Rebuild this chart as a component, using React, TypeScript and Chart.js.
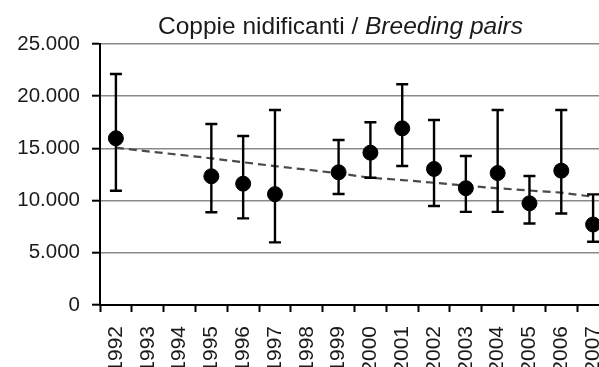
import React, { useEffect, useRef } from 'react';
import { Chart, registerables } from 'chart.js';

Chart.register(...registerables);

const years = ['1992', '1993', '1994', '1995', '1996', '1997', '1998', '1999', '2000', '2001', '2002', '2003', '2004', '2005', '2006', '2007'];
const pairs = [15970, null, null, 12330, 11620, 10620, null, 12710, 14590, 16920, 13030, 11190, 12640, 9740, 12870, 7710];
const upper = [22130, null, null, 17340, 16190, 18680, null, 15800, 17500, 21140, 17720, 14270, 18680, 12360, 18680, 10600];
const lower = [10950, null, null, 8880, 8300, 6000, null, 10630, 12190, 13310, 9480, 8920, 8920, 7800, 8760, 6060];
const trend = [15070, 14720, 14390, 14050, 13670, 13310, 12960, 12610, 12190, 11970, 11710, 11430, 11180, 10970, 10760, 10370];
const yTickValues = [0, 5000, 10000, 15000, 20000, 25000];
const yTickLabels = ['0', '5.000', '10.000', '15.000', '20.000', '25.000'];

const FONT = '"Liberation Sans", Arial, sans-serif';

const errorBars = {
  id: 'errorBars',
  afterDatasetsDraw(chart: any) {
    const { ctx, scales } = chart;
    const x = scales.x;
    const y = scales.y;
    ctx.save();
    ctx.strokeStyle = '#000';
    ctx.lineWidth = 2.4;
    years.forEach((_, i) => {
      const hi = upper[i];
      const lo = lower[i];
      if (hi == null || lo == null) return;
      const px = x.getPixelForValue(i);
      const t = y.getPixelForValue(hi);
      const b = y.getPixelForValue(lo);
      ctx.beginPath();
      ctx.moveTo(px, t);
      ctx.lineTo(px, b);
      ctx.moveTo(px - 6, t);
      ctx.lineTo(px + 6, t);
      ctx.moveTo(px - 6, b);
      ctx.lineTo(px + 6, b);
      ctx.stroke();
    });
    ctx.restore();
  },
};

export default function App() {
  const ref = useRef<HTMLCanvasElement>(null);

  useEffect(() => {
    if (!ref.current) return;
    const chart = new Chart(ref.current, {
      type: 'line',
      data: {
        labels: years,
        datasets: [
          {
            label: 'Coppie',
            data: pairs,
            showLine: false,
            pointRadius: 7.5,
            pointHoverRadius: 7.5,
            pointBackgroundColor: '#000',
            pointBorderColor: '#000',
            borderColor: '#000',
            order: 0,
          },
          {
            label: 'Trend',
            data: trend,
            borderColor: '#4a4a4a',
            borderWidth: 2.2,
            borderDash: [8, 5],
            pointRadius: 0,
            pointHoverRadius: 0,
            fill: false,
            tension: 0,
            order: 1,
          },
        ],
      },
      options: {
        responsive: false,
        animation: false,
        devicePixelRatio: 1,
        layout: { padding: { top: 44, left: 0, right: 11, bottom: 0 } },
        plugins: {
          legend: { display: false },
          tooltip: { enabled: false },
          title: { display: false },
        },
        scales: {
          x: {
            type: 'category',
            offset: true,
            afterFit: (s: any) => {
              s.height = 85;
              s.paddingLeft = 0;
              s.paddingRight = 0;
            },
            grid: {
              offset: true,
              drawOnChartArea: false,
              drawTicks: true,
              tickLength: 7,
              color: '#000',
              tickColor: '#000',
              tickWidth: 2,
            },
            border: { display: true, color: '#000', width: 2 },
            ticks: {
              minRotation: 90,
              maxRotation: 90,
              autoSkip: false,
              padding: 14,
              color: '#1a1a1a',
              font: { family: FONT, size: 21 },
            },
          },
          y: {
            min: 0,
            max: 25000,
            afterFit: (s: any) => { s.width = 100; },
            afterBuildTicks: (s: any) => { s.ticks = yTickValues.map((v) => ({ value: v })); },
            grid: {
              color: '#8a8a8a',
              lineWidth: 1.4,
              drawTicks: true,
              tickLength: 8,
              tickColor: '#000',
              tickWidth: 2,
            },
            border: { display: true, color: '#000', width: 2 },
            ticks: {
              padding: 12,
              color: '#1a1a1a',
              font: { family: FONT, size: 20.5 },
              callback: (v: any) => {
                const idx = yTickValues.indexOf(Number(v));
                return idx >= 0 ? yTickLabels[idx] : '';
              },
            },
          },
        },
      },
      plugins: [errorBars],
    });
    return () => chart.destroy();
  }, []);

  return (
    <div style={{ position: 'fixed', left: 0, top: 0, width: 599, height: 367, overflow: 'hidden', background: '#fff' }}>
      <div
        style={{
          position: 'absolute',
          left: 158,
          top: 14,
          fontFamily: FONT,
          fontSize: 24.5,
          lineHeight: '23px',
          color: '#1a1a1a',
          whiteSpace: 'nowrap',
          zIndex: 1,
        }}
      >
        Coppie nidificanti / <i>Breeding pairs</i>
      </div>
      <canvas ref={ref} width={620} height={390} style={{ display: 'block' }} />
    </div>
  );
}
